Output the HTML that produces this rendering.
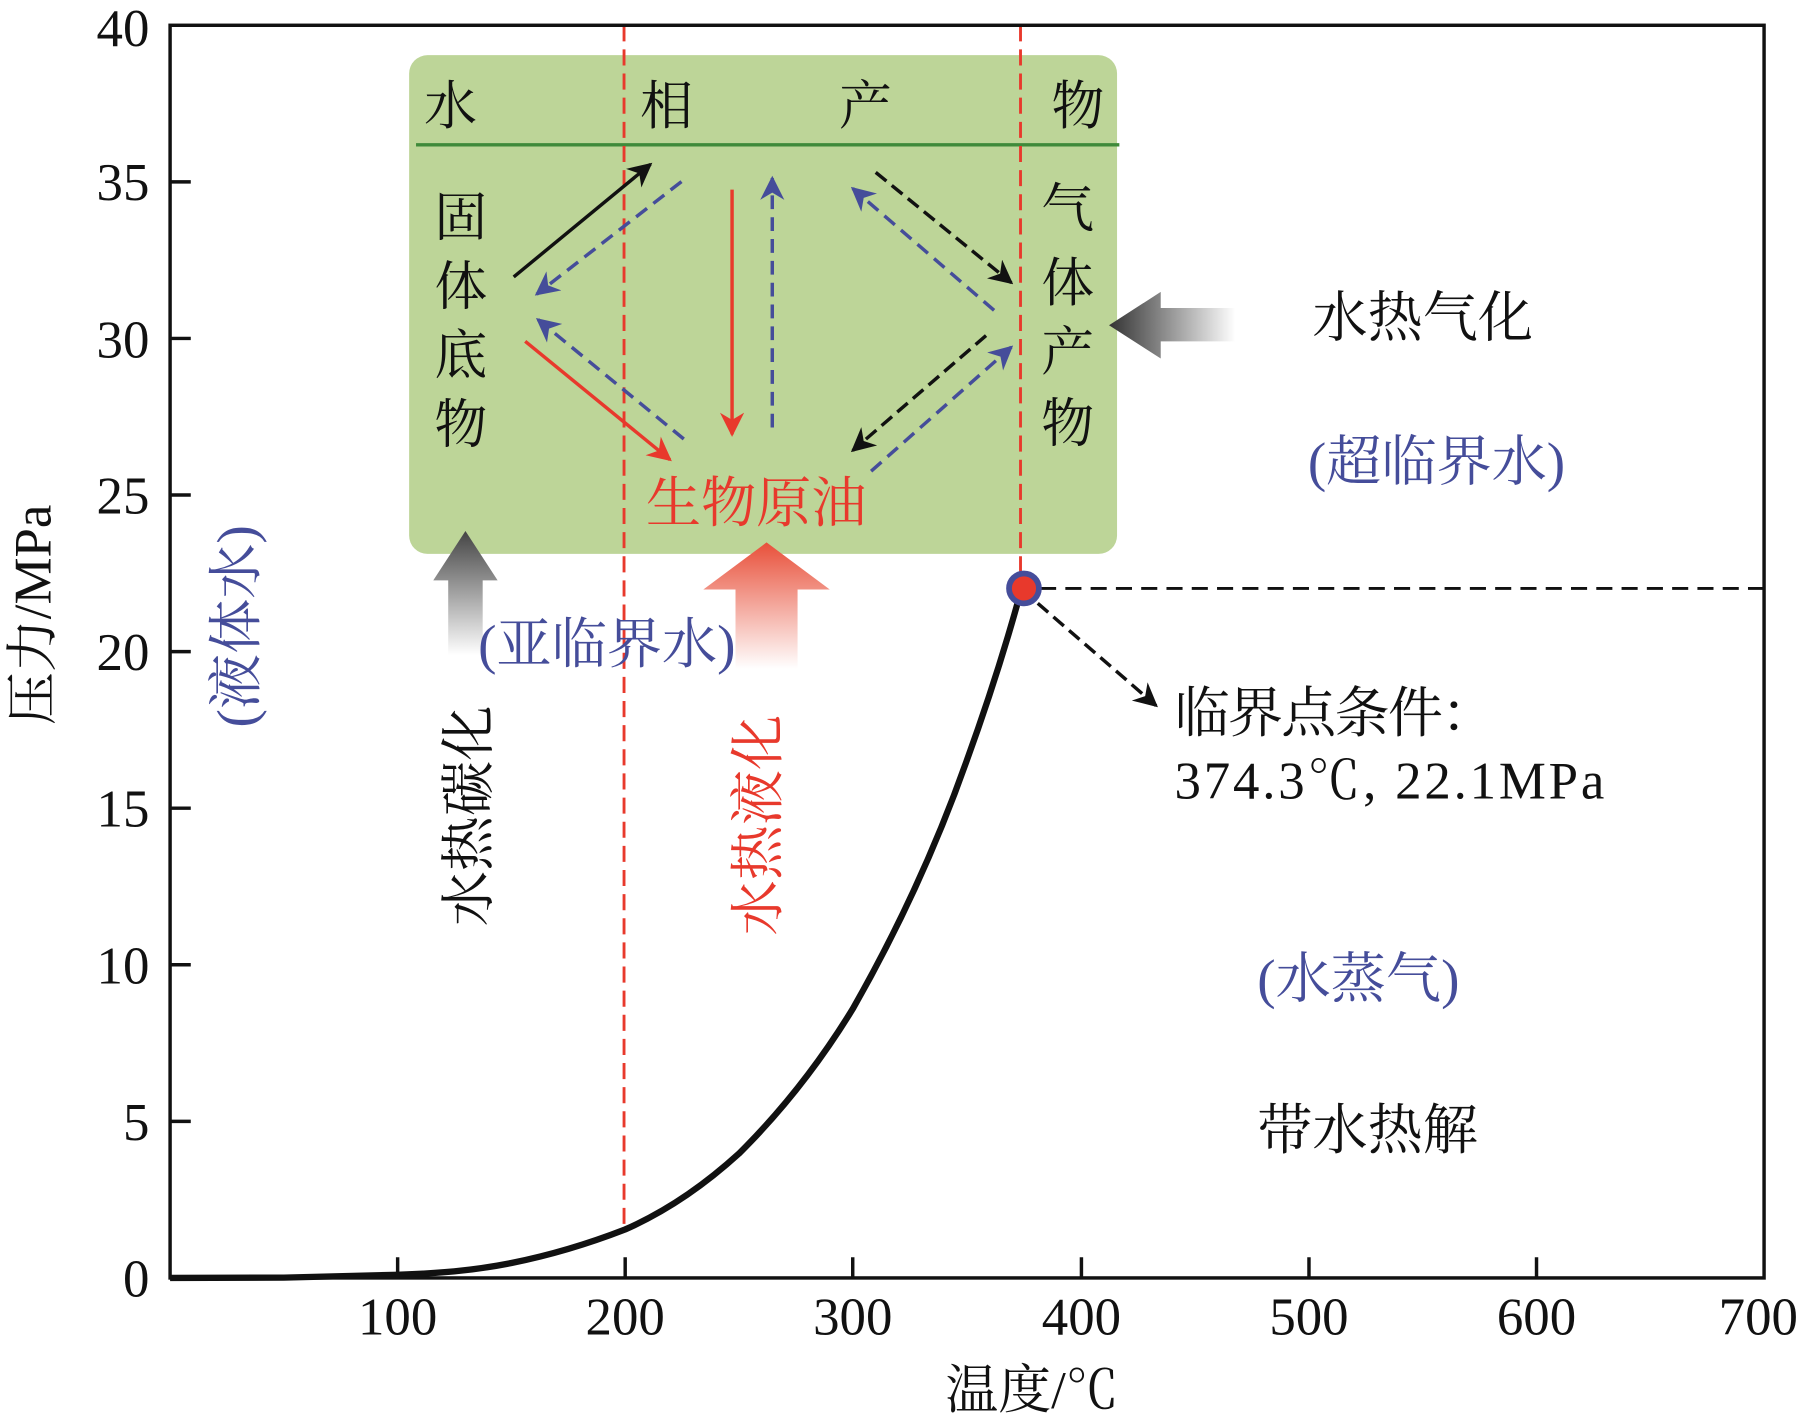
<!DOCTYPE html>
<html><head><meta charset="utf-8"><style>html,body{margin:0;padding:0;background:#fff}svg{display:block}
text{font-family:"Liberation Serif","Noto Serif CJK SC","Noto Sans CJK SC",serif}</style></head>
<body>
<svg width="1802" height="1417" viewBox="0 0 1568 1233" xmlns="http://www.w3.org/2000/svg">
<defs>
<linearGradient id="gg" x1="0" y1="0" x2="0" y2="1"><stop offset="0" stop-color="#444"/><stop offset="1" stop-color="#fff"/></linearGradient>
<linearGradient id="rg" x1="0" y1="0" x2="0" y2="1"><stop offset="0" stop-color="#e8503a"/><stop offset="1" stop-color="#fff"/></linearGradient>
<linearGradient id="hg" x1="0" y1="0" x2="1" y2="0"><stop offset="0" stop-color="#333"/><stop offset="1" stop-color="#fff"/></linearGradient>
<marker id="mk" viewBox="0 0 10 10" refX="9" refY="5" markerWidth="7" markerHeight="7" orient="auto"><path d="M0,0L10,5L0,10L3,5z" fill="#111"/></marker>
<marker id="mb" viewBox="0 0 10 10" refX="9" refY="5" markerWidth="7" markerHeight="7" orient="auto"><path d="M0,0L10,5L0,10L3,5z" fill="#454d9a"/></marker>
<marker id="mr" viewBox="0 0 10 10" refX="9" refY="5" markerWidth="7" markerHeight="7" orient="auto"><path d="M0,0L10,5L0,10L3,5z" fill="#e8392c"/></marker>
</defs>
<rect x="356" y="48" width="616" height="434" rx="16" fill="#bdd598"/>
<line x1="362" y1="126" x2="974" y2="126" stroke="#3f8a3a" stroke-width="3"/>
<line x1="543" y1="22" x2="543" y2="1068" stroke="#e8392c" stroke-width="2.5" stroke-dasharray="14,7"/>
<line x1="888" y1="22" x2="888" y2="505" stroke="#e8392c" stroke-width="2.5" stroke-dasharray="14,7"/>
<path d="M390,570 L390,505 L377,505 L405,462 L433,505 L420,505 L420,570 Z" fill="url(#gg)"/>
<path d="M640,582 L640,513 L612,513 L667,472 L722,513 L694,513 L694,582 Z" fill="url(#rg)"/>
<path d="M1075,268 L1010,268 L1010,254 L965,283 L1010,312 L1010,297 L1075,297 Z" fill="url(#hg)"/>
<g fill="none" stroke-width="3">
<line x1="447" y1="241" x2="566" y2="143" stroke="#111" marker-end="url(#mk)"/>
<line x1="593" y1="158" x2="467" y2="256" stroke="#454d9a" stroke-dasharray="12,7" marker-end="url(#mb)"/>
<line x1="595" y1="382" x2="468" y2="278" stroke="#454d9a" stroke-dasharray="12,7" marker-end="url(#mb)"/>
<line x1="457" y1="297" x2="583" y2="400" stroke="#e8392c" marker-end="url(#mr)"/>
<line x1="637" y1="165" x2="637" y2="378" stroke="#e8392c" marker-end="url(#mr)"/>
<line x1="672" y1="372" x2="672" y2="155" stroke="#454d9a" stroke-dasharray="12,7" marker-end="url(#mb)"/>
<line x1="762" y1="150" x2="880" y2="246" stroke="#111" stroke-dasharray="12,6" marker-end="url(#mk)"/>
<line x1="865" y1="270" x2="742" y2="164" stroke="#454d9a" stroke-dasharray="12,7" marker-end="url(#mb)"/>
<line x1="858" y1="292" x2="742" y2="392" stroke="#111" stroke-dasharray="12,6" marker-end="url(#mk)"/>
<line x1="758" y1="410" x2="880" y2="302" stroke="#454d9a" stroke-dasharray="12,7" marker-end="url(#mb)"/>
</g>
<path d="M148,1112 L247,1111.7 L346,1109.2 C380,1108 410,1106 445,1099 C480,1092 510,1083 544,1069.8 C580,1054 612,1032 643,1003.8 C680,967 712,927 742,877.9 C775,820 810,750 841,662.4 C860,610 876,560 889.5,510" fill="none" stroke="#111" stroke-width="5.5"/>
<line x1="905" y1="512" x2="1535" y2="512" stroke="#111" stroke-width="2.5" stroke-dasharray="14,8"/>
<line x1="903" y1="525" x2="1006" y2="614" stroke="#111" stroke-width="3" stroke-dasharray="12,6" marker-end="url(#mk)"/>
<circle cx="891" cy="512" r="13" fill="#e8392c" stroke="#454d9a" stroke-width="5"/>
<g stroke="#111" stroke-width="3" fill="none">
<rect x="148" y="22" width="1387" height="1090"/>
<path d="M346,1112v-18M544,1112v-18M742,1112v-18M941,1112v-18M1139,1112v-18M1337,1112v-18"/>
<path d="M148,158.25h18M148,294.5h18M148,430.75h18M148,567h18M148,703.25h18M148,839.5h18M148,975.75h18"/>
</g>
<g font-size="46" fill="#111" text-anchor="middle">
<text x="346" y="1161">100</text><text x="544" y="1161">200</text><text x="742" y="1161">300</text><text x="941" y="1161">400</text><text x="1139" y="1161">500</text><text x="1337" y="1161">600</text><text x="1530" y="1161">700</text>
</g>
<g font-size="46" fill="#111" text-anchor="end">
<text x="130" y="1128">0</text><text x="130" y="992">5</text><text x="130" y="856">10</text><text x="130" y="719">15</text><text x="130" y="583">20</text><text x="130" y="447">25</text><text x="130" y="311">30</text><text x="130" y="174">35</text><text x="130" y="40">40</text>
</g>
<text x="898" y="1225" font-size="46" text-anchor="middle" fill="#111">温度/℃</text>
<text transform="translate(44,535) rotate(-90)" font-size="46" text-anchor="middle" fill="#111">压力/MPa</text>
<g font-size="46" fill="#111">
<text x="369" y="108">水</text><text x="557" y="108">相</text><text x="730" y="108">产</text><text x="915" y="108">物</text>
<text x="378" y="205">固</text><text x="378" y="265">体</text><text x="378" y="325">底</text><text x="378" y="385">物</text>
<text x="906" y="197">气</text><text x="906" y="262">体</text><text x="906" y="322">产</text><text x="906" y="384">物</text>
</g>
<text x="562" y="454" font-size="48" fill="#e8392c">生物原油</text>
<g font-size="48">
<text x="1142" y="293" fill="#111">水热气化</text>
<text x="1138" y="418" fill="#454d9a">(超临界水)</text>
<text x="416" y="577" fill="#454d9a">(亚临界水)</text>
<text x="1094" y="868" fill="#454d9a">(水蒸气)</text>
<text x="1094" y="1000" fill="#111">带水热解</text>
<text x="1022" y="637" fill="#111" textLength="280">临界点条件：</text>
<text x="1022" y="695" fill="#111" font-size="46" textLength="374">374.3℃, 22.1MPa</text>
<text transform="translate(424,710) rotate(-90)" text-anchor="middle" fill="#111">水热碳化</text>
<text transform="translate(676,718) rotate(-90)" text-anchor="middle" fill="#e8392c">水热液化</text>
<text transform="translate(222,545) rotate(-90)" text-anchor="middle" fill="#454d9a">(液体水)</text>
</g>
</svg>
</body></html>
